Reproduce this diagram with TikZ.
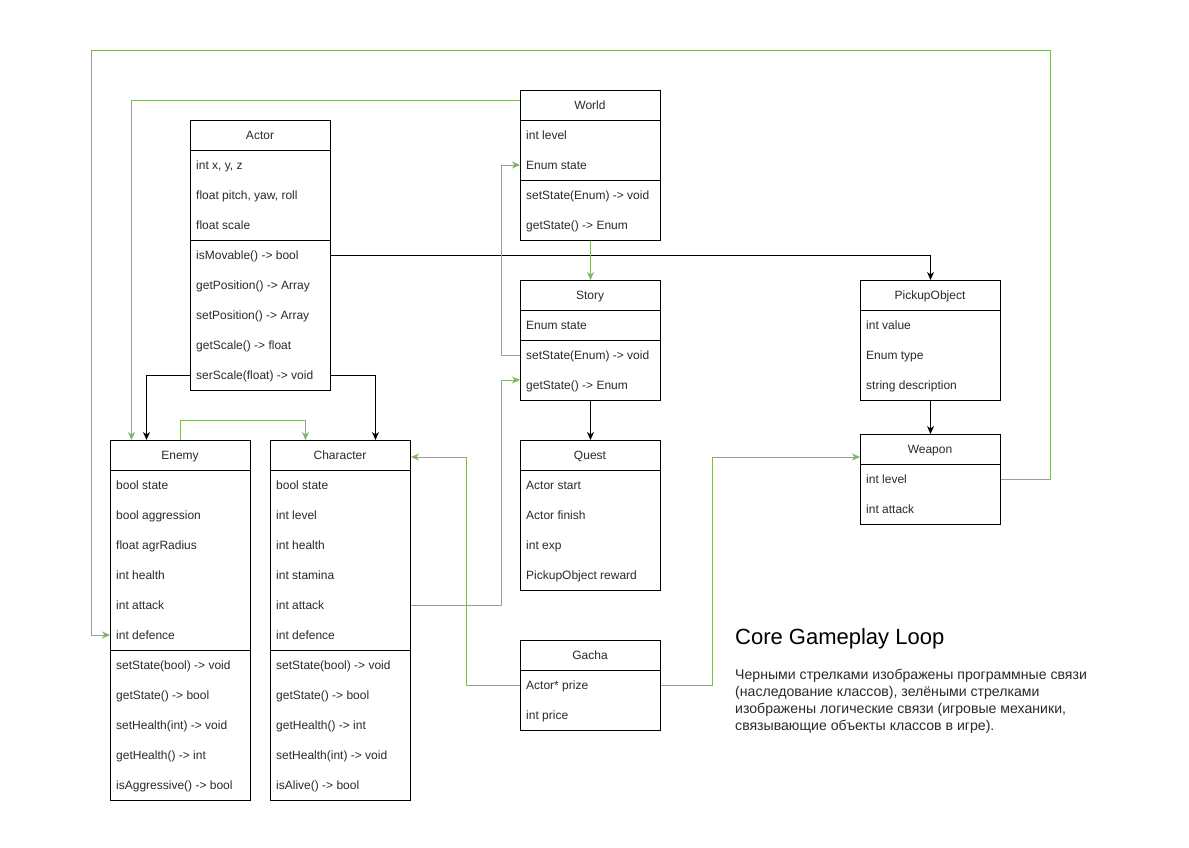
\documentclass[tikz,border=0pt]{standalone}
\usepackage{fontspec}
\setmainfont{Liberation Sans}
\usetikzlibrary{arrows.meta,calc}
\definecolor{grn}{HTML}{82B366}
\definecolor{txt}{HTML}{2A2A2A}
\begin{document}
\begin{tikzpicture}[x=1pt,y=-1pt,
  cls/.style={draw=black, line width=1pt, fill=white, minimum width=140pt, inner sep=0pt, anchor=north west},
  hdr/.style={font=\fontsize{12}{14}\selectfont, text height=8.6pt, text depth=0pt, inner sep=0pt, text=txt},
  fld/.style={hdr, anchor=west},
  blk/.style={draw=black, line width=1pt, -{Stealth[length=8pt,width=7pt,inset=2.5pt]}},
  gar/.style={draw=grn, line width=1pt, -{Stealth[length=8pt,width=7pt,inset=2.5pt]}},
  sep/.style={draw=black, line width=1pt}]
\useasboundingbox (0,0) rectangle (1189,847);
\fill[white] (0,0) rectangle (1189,847);

% ---------- class boxes ----------
\node[cls, minimum height=270pt] (actor) at (190,120) {};
\node[cls, minimum height=150pt] (world) at (520,90) {};
\node[cls, minimum height=120pt] (story) at (520,280) {};
\node[cls, minimum height=150pt] (quest) at (520,440) {};
\node[cls, minimum height=90pt] (gacha) at (520,640) {};
\node[cls, minimum height=120pt] (pickup) at (860,280) {};
\node[cls, minimum height=90pt] (weapon) at (860,434) {};
\node[cls, minimum height=360pt] (enemy) at (110,440) {};
\node[cls, minimum height=360pt] (character) at (270,440) {};

% separators
\foreach \n in {actor,world,story,quest,gacha,pickup,weapon,enemy,character}
  \draw[sep] ([yshift=-30pt]\n.north west) -- ([yshift=-30pt]\n.north east);
\draw[sep] ([yshift=-120pt]actor.north west) -- ([yshift=-120pt]actor.north east);
\draw[sep] ([yshift=-90pt]world.north west) -- ([yshift=-90pt]world.north east);
\draw[sep] ([yshift=-60pt]story.north west) -- ([yshift=-60pt]story.north east);
\draw[sep] ([yshift=-210pt]enemy.north west) -- ([yshift=-210pt]enemy.north east);
\draw[sep] ([yshift=-210pt]character.north west) -- ([yshift=-210pt]character.north east);

% ---------- texts ----------
\node[hdr] (actorH) at (260,135) {Actor};
\node[fld] (actor1) at (196,165) {int x, y, z};
\node[fld] (actor2) at (196,195) {float pitch, yaw, roll};
\node[fld] (actor3) at (196,225) {float scale};
\node[fld] (actor4) at (196,255) {isMovable() -> bool};
\node[fld] (actor5) at (196,285) {getPosition() -> Array};
\node[fld] (actor6) at (196,315) {setPosition() -> Array};
\node[fld] (actor7) at (196,345) {getScale() -> float};
\node[fld] (actor8) at (196,375) {serScale(float) -> void};

\node[hdr] (worldH) at (590,105) {World};
\node[fld] (world1) at (526,135) {int level};
\node[fld] (world2) at (526,165) {Enum state};
\node[fld] (world3) at (526,195) {setState(Enum) -> void};
\node[fld] (world4) at (526,225) {getState() -> Enum};

\node[hdr] (storyH) at (590,295) {Story};
\node[fld] (story1) at (526,325) {Enum state};
\node[fld] (story2) at (526,355) {setState(Enum) -> void};
\node[fld] (story3) at (526,385) {getState() -> Enum};

\node[hdr] (questH) at (590,455) {Quest};
\node[fld] (quest1) at (526,485) {Actor start};
\node[fld] (quest2) at (526,515) {Actor finish};
\node[fld] (quest3) at (526,545) {int exp};
\node[fld] (quest4) at (526,575) {PickupObject reward};

\node[hdr] (gachaH) at (590,655) {Gacha};
\node[fld] (gacha1) at (526,685) {Actor* prize};
\node[fld] (gacha2) at (526,715) {int price};

\node[hdr] (pickupH) at (930,295) {PickupObject};
\node[fld] (pickup1) at (866,325) {int value};
\node[fld] (pickup2) at (866,355) {Enum type};
\node[fld] (pickup3) at (866,385) {string description};

\node[hdr] (weaponH) at (930,449) {Weapon};
\node[fld] (weapon1) at (866,479) {int level};
\node[fld] (weapon2) at (866,509) {int attack};

\node[hdr] (enemyH) at (180,455) {Enemy};
\node[fld] (enemy1) at (116,485) {bool state};
\node[fld] (enemy2) at (116,515) {bool aggression};
\node[fld] (enemy3) at (116,545) {float agrRadius};
\node[fld] (enemy4) at (116,575) {int health};
\node[fld] (enemy5) at (116,605) {int attack};
\node[fld] (enemy6) at (116,635) {int defence};
\node[fld] (enemy7) at (116,665) {setState(bool) -> void};
\node[fld] (enemy8) at (116,695) {getState() -> bool};
\node[fld] (enemy9) at (116,725) {setHealth(int) -> void};
\node[fld] (enemy10) at (116,755) {getHealth() -> int};
\node[fld] (enemy11) at (116,785) {isAggressive() -> bool};

\node[hdr] (charH) at (340,455) {Character};
\node[fld] (char1) at (276,485) {bool state};
\node[fld] (char2) at (276,515) {int level};
\node[fld] (char3) at (276,545) {int health};
\node[fld] (char4) at (276,575) {int stamina};
\node[fld] (char5) at (276,605) {int attack};
\node[fld] (char6) at (276,635) {int defence};
\node[fld] (char7) at (276,665) {setState(bool) -> void};
\node[fld] (char8) at (276,695) {getState() -> bool};
\node[fld] (char9) at (276,725) {getHealth() -> int};
\node[fld] (char10) at (276,755) {setHealth(int) -> void};
\node[fld] (char11) at (276,785) {isAlive() -> bool};

% ---------- black connectors ----------
\draw[blk] (actor.east |- actor4) -| (pickup.north);
\draw[blk] (actor.west |- actor8) -| ([xshift=-34pt]enemy.north);
\draw[blk] (actor.east |- actor8) -| ([xshift=35pt]character.north);
\draw[blk] (story.south) -- (quest.north);
\draw[blk] (pickup.south) -- (weapon.north);

% ---------- green connectors ----------
\coordinate (loopTR) at (1050,50);
\coordinate (loopTL) at (91,50);
\draw[gar] (weapon.east |- weapon1) -| (loopTR) -- (loopTL) |- (enemy.west |- enemy6);
\draw[gar] ([yshift=-10pt]world.north west) -| ([xshift=-49pt]enemy.north);
\draw[gar] (enemy.north) -- ++(0,-20) -| ([xshift=-35pt]character.north);
\draw[gar] (story.west |- story2) -- ++(-19,0) |- (world.west |- world2);
\draw[gar] (world.south) -- (story.north);
\draw[gar] (character.east |- char5) -- ++(90,0) |- ([yshift=5pt]story.west |- story3);
\draw[gar] (gacha.west |- gacha1) -- ++(-54,0) |- ([yshift=-2pt]character.east |- charH);
\draw[gar] (gacha.east |- gacha1) -- ++(51,0) |- ([yshift=-8pt]weapon.west |- weaponH);

% ---------- legend ----------
\node[anchor=base west, inner sep=0pt, font=\fontsize{22}{26}\selectfont] (title) at (735,644) {Core Gameplay Loop};
\node[anchor=north west, inner sep=0pt, align=left, text=txt, font=\fontsize{14.1}{17}\selectfont] (desc) at (735,669)
  {Черными стрелками изображены программные связи\\
   (наследование классов), зелёными стрелками\\
   изображены логические связи (игровые механики,\\
   связывающие объекты классов в игре).};
\end{tikzpicture}
\end{document}
